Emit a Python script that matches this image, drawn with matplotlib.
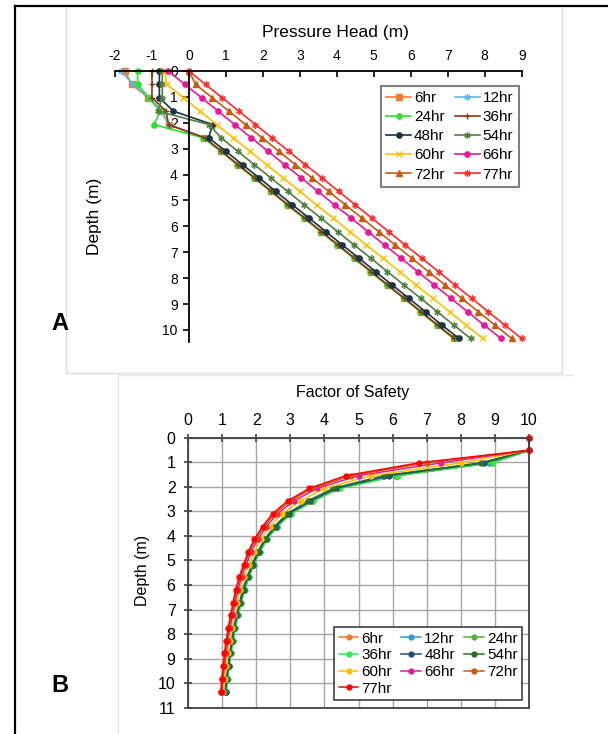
import matplotlib
matplotlib.use("Agg")
import matplotlib.pyplot as plt
from matplotlib.lines import Line2D

plt.rcParams['font.family'] = ['Liberation Sans', 'DejaVu Sans']
plt.rcParams['axes.unicode_minus'] = False

# depth nodes (m), shared by both panels
depth = [0.00, 0.52, 1.03, 1.55, 2.07, 2.58, 3.10, 3.62, 4.13, 4.65, 5.17,
         5.68, 6.20, 6.72, 7.23, 7.75, 8.27, 8.78, 9.30, 9.82, 10.33]

labels = ['6hr', '12hr', '24hr', '36hr', '48hr', '54hr', '60hr', '66hr', '72hr', '77hr']

# panel A: pressure head (m)
ph_6 = [-1.73, -1.55, -1.10, -0.75, -0.55, 0.40, 0.88, 1.33, 1.78, 2.23, 2.68,
        3.13, 3.58, 4.03, 4.48, 4.93, 5.38, 5.83, 6.28, 6.73, 7.18]
ph_12 = [-1.85, -1.50, -1.08, -0.72, -0.55, 0.40, 0.87, 1.32, 1.77, 2.22, 2.67,
         3.12, 3.57, 4.02, 4.47, 4.92, 5.37, 5.82, 6.27, 6.72, 7.17]
ph_24 = [-1.39, -1.39, -1.08, -0.78, -0.94, 0.38, 0.86, 1.31, 1.76, 2.21, 2.66,
         3.11, 3.56, 4.01, 4.46, 4.91, 5.36, 5.81, 6.26, 6.71, 7.16]
ph_36 = [-1.00, -1.00, -1.00, -0.62, -0.55, 0.43, 0.88, 1.33, 1.78, 2.23, 2.68,
         3.13, 3.58, 4.03, 4.48, 4.93, 5.38, 5.83, 6.28, 6.73, 7.18]
ph_48 = [-0.80, -0.80, -0.80, -0.42, 0.64, 0.53, 1.00, 1.45, 1.90, 2.35, 2.80,
         3.25, 3.70, 4.15, 4.60, 5.05, 5.50, 5.95, 6.40, 6.85, 7.30]
ph_54 = [-0.72, -0.72, -0.72, -0.85, 0.55, 0.87, 1.32, 1.77, 2.22, 2.67, 3.12,
         3.57, 4.02, 4.47, 4.92, 5.37, 5.82, 6.27, 6.72, 7.17, 7.62]
ph_60 = [-0.65, -0.60, -0.15, 0.30, 0.75, 1.20, 1.65, 2.10, 2.55, 3.00, 3.45,
         3.90, 4.35, 4.80, 5.25, 5.70, 6.15, 6.60, 7.05, 7.50, 7.95]
ph_66 = [-0.56, -0.11, 0.34, 0.79, 1.24, 1.69, 2.14, 2.59, 3.04, 3.49, 3.94,
         4.39, 4.84, 5.29, 5.74, 6.19, 6.64, 7.09, 7.54, 7.99, 8.44]
ph_72 = [0.00, 0.18, 0.63, 1.08, 1.53, 1.98, 2.43, 2.88, 3.33, 3.78, 4.23,
         4.68, 5.13, 5.58, 6.03, 6.48, 6.93, 7.38, 7.83, 8.28, 8.73]
ph_77 = [0.00, 0.45, 0.90, 1.35, 1.80, 2.25, 2.70, 3.15, 3.60, 4.05, 4.50,
         4.95, 5.40, 5.85, 6.30, 6.75, 7.20, 7.65, 8.10, 8.55, 9.00]

# panel B: factor of safety
fs_6 = [10, 10, 8.86, 6.10, 4.42, 3.65, 3.01, 2.60, 2.31, 2.09, 1.92,
        1.77, 1.65, 1.55, 1.46, 1.38, 1.31, 1.25, 1.20, 1.15, 1.11]
fs_12 = [10, 10, 8.84, 6.09, 4.41, 3.64, 3.00, 2.60, 2.31, 2.09, 1.92,
         1.77, 1.65, 1.55, 1.46, 1.38, 1.31, 1.25, 1.20, 1.15, 1.11]
fs_24 = [10, 10, 8.92, 6.14, 4.43, 3.67, 3.02, 2.61, 2.32, 2.10, 1.93,
         1.78, 1.65, 1.55, 1.46, 1.38, 1.31, 1.25, 1.20, 1.15, 1.11]
fs_36 = [10, 10, 8.95, 6.17, 4.45, 3.68, 3.03, 2.62, 2.33, 2.11, 1.94,
         1.79, 1.66, 1.56, 1.47, 1.39, 1.32, 1.26, 1.21, 1.16, 1.12]
fs_48 = [10, 10, 8.69, 5.90, 4.34, 3.59, 2.96, 2.57, 2.28, 2.07, 1.90,
         1.75, 1.63, 1.53, 1.44, 1.36, 1.30, 1.24, 1.19, 1.14, 1.10]
fs_54 = [10, 10, 8.58, 5.74, 4.25, 3.51, 2.91, 2.53, 2.25, 2.04, 1.87,
         1.73, 1.60, 1.51, 1.42, 1.34, 1.28, 1.22, 1.17, 1.12, 1.08]
fs_60 = [10, 10, 8.02, 5.38, 4.00, 3.30, 2.76, 2.40, 2.14, 1.94, 1.79,
         1.65, 1.53, 1.44, 1.36, 1.29, 1.22, 1.17, 1.12, 1.08, 1.04]
fs_66 = [10, 10, 7.43, 5.00, 3.78, 3.11, 2.62, 2.30, 2.05, 1.85, 1.71,
         1.57, 1.47, 1.38, 1.31, 1.23, 1.17, 1.12, 1.07, 1.03, 1.00]
fs_72 = [10, 10, 7.00, 4.78, 3.65, 3.00, 2.54, 2.23, 1.99, 1.80, 1.66,
         1.53, 1.43, 1.34, 1.27, 1.20, 1.14, 1.09, 1.05, 1.01, 0.98]
fs_77 = [10, 10, 6.78, 4.63, 3.56, 2.92, 2.48, 2.19, 1.95, 1.77, 1.63,
         1.50, 1.40, 1.32, 1.25, 1.18, 1.12, 1.07, 1.03, 0.99, 0.96]

ph_series = [ph_6, ph_12, ph_24, ph_36, ph_48, ph_54, ph_60, ph_66, ph_72, ph_77]
fs_series = [fs_6, fs_12, fs_24, fs_36, fs_48, fs_54, fs_60, fs_66, fs_72, fs_77]

colors_a = ['#ED7D31', '#5BB8E8', '#33DD33', '#8B3A10', '#1B3346',
            '#4F7F3F', '#FFC000', '#E6199B', '#C55A11', '#FF2A2A']
markers_a = ['s', (6, 2, 0), 'o', '+', 'o', (6, 2, 0), 'x', 'o', '^', (6, 2, 0)]
colors_b = ['#ED7D31', '#2E9BD6', '#5DAA3C', '#33E84A', '#1F4E79',
            '#2F6B22', '#FFC000', '#E8199B', '#C55A11', '#FF0000']

W, H = 608, 734
fig = plt.figure(figsize=(W / 100, H / 100), dpi=100)


def fx(px):
    return px / W


def fy(py):
    return 1 - py / H


# page frame and panel boxes
fig.add_artist(Line2D([fx(15), fx(15)], [fy(6), fy(734)], color='black', lw=1.6))
fig.add_artist(Line2D([fx(15), fx(608)], [fy(6), fy(6)], color='black', lw=1.6))
fig.add_artist(Line2D([fx(66), fx(66), fx(562), fx(562)], [fy(8), fy(373), fy(373), fy(8)],
                      color='#DADADA', lw=1))
fig.add_artist(Line2D([fx(118), fx(118), fx(573)], [fy(734), fy(375), fy(375)],
                      color='#E6E6E6', lw=1))

# ---------------- panel A ----------------
axA = fig.add_axes([fx(115), fy(341.6), (521.7 - 115) / W, (341.6 - 71) / H])
axA.set_xlim(-2, 9)
axA.set_ylim(10.45, 0)
axA.set_facecolor('none')
for name in ['right', 'bottom']:
    axA.spines[name].set_visible(False)
axA.spines['left'].set_position(('data', 0))
axA.spines['left'].set_linewidth(1.3)
axA.spines['top'].set_linewidth(1.3)
axA.xaxis.tick_top()
axA.set_xticks(range(-2, 10))
axA.set_yticks(range(0, 11))
axA.tick_params(axis='x', direction='in', length=4, width=1.2, pad=6, labelsize=10)
axA.tick_params(axis='y', direction='out', length=4, width=1.2, pad=4, labelsize=10)

lines_a = []
for ph, lab, c, m in zip(ph_series, labels, colors_a, markers_a):
    ms = 4.5 if m in ['+', 'x', (6, 2, 0)] else 3.8
    ln, = axA.plot(ph, depth, color=c, marker=m, ms=ms, mew=1.0, lw=1.2,
                   label=lab, clip_on=False)
    lines_a.append(ln)

order_a = [0, 2, 4, 6, 8, 1, 3, 5, 7, 9]
legA = fig.legend([lines_a[i] for i in order_a], [labels[i] for i in order_a],
                  loc='upper left', bbox_to_anchor=(fx(381), fy(86)), ncol=2,
                  fontsize=11, handlelength=1.6, handletextpad=0.2,
                  columnspacing=0.7, labelspacing=0.33, borderpad=0.35,
                  borderaxespad=0, fancybox=False, framealpha=1)
legA.get_frame().set_edgecolor('#808080')
legA.get_frame().set_linewidth(1.5)

fig.text(fx(335), fy(32), 'Pressure Head (m)', ha='center', va='center', fontsize=12.5)
fig.text(fx(95), fy(216), 'Depth (m)', ha='center', va='center', rotation=90, fontsize=12.5)
fig.text(fx(60), fy(323), 'A', ha='center', va='center', fontsize=17, fontweight='bold')

# ---------------- panel B ----------------
axB = fig.add_axes([fx(188), fy(708), (529 - 188) / W, (708 - 437.5) / H])
axB.set_xlim(0, 10)
axB.set_ylim(11, 0)
axB.xaxis.tick_top()
axB.set_xticks(range(0, 11))
axB.set_yticks(range(0, 12))
axB.grid(True, color='#A6A6A6', lw=1.0)
axB.set_axisbelow(True)
for name in axB.spines:
    axB.spines[name].set_color('#404040')
    axB.spines[name].set_linewidth(1.3)
axB.tick_params(axis='both', direction='inout', length=6, width=1.2,
                labelsize=11.5, color='#404040')
axB.tick_params(axis='x', pad=4)
axB.tick_params(axis='y', pad=6)

lines_b = []
for fs, lab, c in zip(fs_series, labels, colors_b):
    ln, = axB.plot(fs, depth, color=c, marker='o', ms=3.5, lw=1.1,
                   label=lab, clip_on=False)
    lines_b.append(ln)

# legend filled column-wise: 4 + 3 + 3 items, reads row-wise like the original
order_b = [0, 3, 6, 9, 1, 4, 7, 2, 5, 8]
legB = axB.legend([lines_b[i] for i in order_b], [labels[i] for i in order_b],
                  loc='upper left', bbox_to_anchor=(fx(334), fy(627)),
                  bbox_transform=fig.transFigure, ncol=3, fontsize=11,
                  handlelength=1.3, handletextpad=0.2, columnspacing=0.6,
                  labelspacing=0.18, borderpad=0.3, borderaxespad=0,
                  fancybox=False, framealpha=1)
legB.get_frame().set_edgecolor('#404040')
legB.get_frame().set_linewidth(1.2)

fig.text(fx(353), fy(393), 'Factor of Safety', ha='center', va='center', fontsize=11.5)
fig.text(fx(143), fy(570), 'Depth (m)', ha='center', va='center', rotation=90, fontsize=11.5)
fig.text(fx(60), fy(685), 'B', ha='center', va='center', fontsize=17, fontweight='bold')

fig.savefig('out.png', dpi=100)
